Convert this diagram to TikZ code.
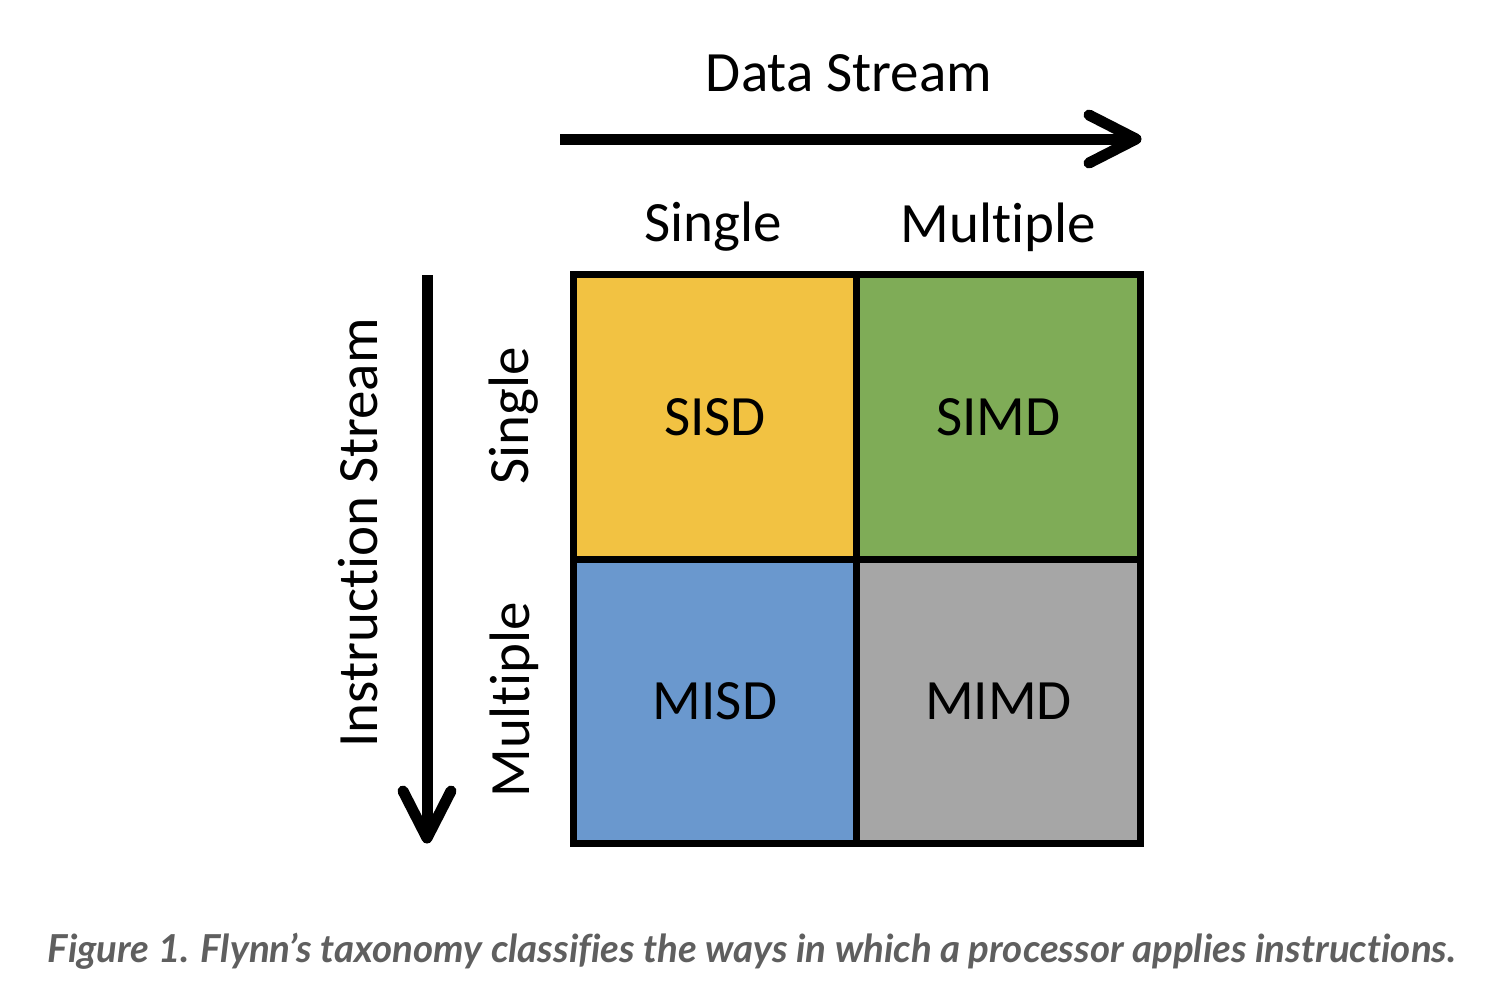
\documentclass[tikz,border=0pt]{standalone}
\usepackage{fontspec}
\setmainfont[Ligatures=NoCommon,RawFeature={-liga;-clig}]{Carlito}
\newfontfamily\capfont[Ligatures=NoCommon,RawFeature={-liga;-clig}]{Lato}
\definecolor{cyellow}{HTML}{F2C242}
\definecolor{cgreen}{HTML}{7FAC57}
\definecolor{cblue}{HTML}{6A98CE}
\definecolor{cgray}{HTML}{A6A6A6}
\definecolor{captext}{HTML}{5F5F5F}
\begin{document}
\begin{tikzpicture}[x=1pt,y=-1pt,
  cell/.style={draw=black,line width=7pt,minimum width=283.5pt,minimum height=284.5pt,inner sep=0pt,font=\fontsize{57}{57}\selectfont},
  lbl/.style={font=\fontsize{57}{57}\selectfont,inner sep=0pt},
  bigarrow/.style={line width=11pt,line cap=round,line join=round}]
\useasboundingbox[fill=white] (0,0) rectangle (1512,986);
% cells
\node[cell,fill=cyellow] (sisd) at (715,417) {SISD};
\node[cell,fill=cgreen]  (simd) at (998.5,417) {SIMD};
\node[cell,fill=cblue]   (misd) at (715,701.5) {MISD};
\node[cell,fill=cgray]   (mimd) at (998.5,701.5) {MIMD};
% column labels
\node[lbl] (dsingle) at (713,227) {Single};
\node[lbl] (dmult) at (998,227) {Multiple};
\node[lbl] (dtitle) at (849,73) {Data Stream};
% row labels
\node[lbl,rotate=90] (isingle) at (514,416) {Single};
\node[lbl,rotate=90] (imult) at (514,700) {Multiple};
\node[lbl,rotate=90] (ititle) at (358,533) {Instruction Stream};
% arrows
\coordinate (hs) at (560,139);
\coordinate (he) at (1136,139);
\draw[bigarrow,line cap=butt] (hs) -- (he);
\draw[bigarrow] (1089,115) -- (he) -- (1089,163);
\coordinate (vs) at (427,275);
\coordinate (ve) at (427,838);
\draw[bigarrow,line cap=butt] (vs) -- (ve);
\draw[bigarrow] (403,791) -- (ve) -- (451,791);
% caption
\node[font=\capfont\bfseries\itshape\fontsize{38.5}{38.5}\selectfont,text=captext,inner sep=0pt] (cap) at (752,951) {Figure 1. Flynn’s taxonomy classifies the ways in which a processor applies instructions.};
\end{tikzpicture}
\end{document}
